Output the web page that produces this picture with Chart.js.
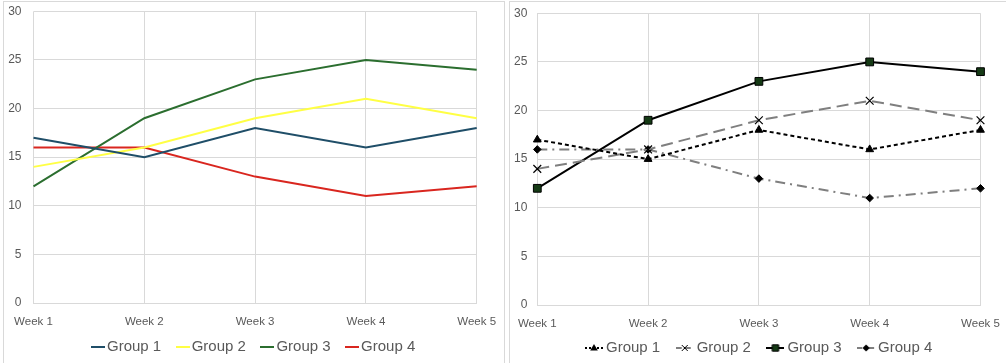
<!DOCTYPE html>
<html><head><meta charset="utf-8">
<script src="https://cdn.jsdelivr.net/npm/chart.js@4.4.1/dist/chart.umd.min.js"></script>
<style>
html,body{margin:0;padding:0;width:1006px;height:363px;overflow:hidden;background:#fff;}
.box{position:absolute;border:1px solid #d9d9d9;box-sizing:border-box;pointer-events:none;}
.cw{position:absolute;top:0;height:400px;}
</style></head><body>
<div class="cw" style="left:0;width:504px"><canvas id="c1"></canvas></div>
<div class="cw" style="left:505px;width:501px"><canvas id="c2"></canvas></div>
<div class="box" style="left:3px;top:1px;width:502px;height:400px"></div>
<div class="box" style="left:509px;top:1px;width:520px;height:400px"></div>
<script>
const categories = ['Week 1','Week 2','Week 3','Week 4','Week 5'];
const seriesNames = ['Group 1','Group 2','Group 3','Group 4'];
const group1 = [17,15,18,16,18];
const group2 = [14,16,19,21,19];
const group3 = [12,19,23,25,24];
const group4 = [16,16,13,11,12];
const yMin = 0, yMax = 30, yStep = 5;

const FONT = "'Liberation Sans', Arial, sans-serif";
const TXT = '#595959';
const GRID = '#d9d9d9';

const leftColors = ['#1f4e68','#ffff44','#2b6e2f','#d9261f'];
const rightStyles = [
  {color:'#000000', dash:[4,3], marker:'triangle', mfill:'#000000', r:4.5},
  {color:'#7f7f7f', dash:[12,6], marker:'crossRot', mfill:'#000000', r:5.5},
  {color:'#000000', dash:[], marker:'rect', mfill:'#153a15', r:5.5},
  {color:'#7f7f7f', dash:[10,5,2,5], marker:'rectRot', mfill:'#000000', r:3.8}
];
const allData = [group1, group2, group3, group4];

function drawMarker(ctx, type, x, y, r, fill){
  ctx.save();
  ctx.setLineDash([]);
  ctx.fillStyle = fill; ctx.strokeStyle = '#000'; ctx.lineWidth = 1;
  ctx.beginPath();
  if (type === 'triangle'){
    ctx.moveTo(x, y - r); ctx.lineTo(x + r*0.95, y + r*0.65); ctx.lineTo(x - r*0.95, y + r*0.65); ctx.closePath(); ctx.fill();
  } else if (type === 'crossRot'){
    const d = r*0.75; ctx.moveTo(x-d,y-d); ctx.lineTo(x+d,y+d); ctx.moveTo(x+d,y-d); ctx.lineTo(x-d,y+d); ctx.stroke();
  } else if (type === 'rect'){
    const d = r*0.8; ctx.rect(x-d,y-d,2*d,2*d); ctx.fill(); ctx.stroke();
  } else if (type === 'rectRot'){
    const d = r*0.9; ctx.moveTo(x,y-d); ctx.lineTo(x+d,y); ctx.lineTo(x,y+d); ctx.lineTo(x-d,y); ctx.closePath(); ctx.fill();
  }
  ctx.restore();
}
function leftIcon(color){
  const c = document.createElement('canvas'); c.width = 14; c.height = 4;
  const x = c.getContext('2d'); x.strokeStyle = color; x.lineWidth = 2;
  x.beginPath(); x.moveTo(0,2); x.lineTo(14,2); x.stroke(); return c;
}
function rightIcon(st){
  const c = document.createElement('canvas'); c.width = 18; c.height = 10;
  const x = c.getContext('2d'); x.strokeStyle = st.color; x.lineWidth = 2;
  x.setLineDash(st.dash.length ? st.dash.map(v=>Math.max(2,v*0.5)) : []);
  x.beginPath(); x.moveTo(0,5); x.lineTo(18,5); x.stroke();
  drawMarker(x, st.marker, 9, 5, 4, st.mfill); return c;
}

const legendShift = {
  id:'legendShift',
  afterLayout(chart, args, opts){
    const lg = chart.legend;
    if (!lg || !lg.lineWidths) return;
    const pad = lg.options.labels.padding;
    const x0 = (lg.left + pad + lg.right - lg.lineWidths[0]) / 2;
    const dx = opts.x - x0;
    const dy = opts.y - (lg.top + pad + 7.5);
    lg.left += dx; lg.right += dx; lg.top += dy; lg.bottom += dy;
  }
};

function makeChart(id, cfg){
  const datasets = allData.map((d,i)=>{
    if (cfg.right){
      const st = rightStyles[i];
      return {label: seriesNames[i], data: d, borderColor: st.color, borderWidth: 2, borderDash: st.dash,
        pointStyle: st.marker, pointRadius: st.r, pointBackgroundColor: st.mfill, pointBorderColor: '#000',
        pointBorderWidth: st.marker==='crossRot'?1.2:1, tension: 0, clip: false, fill: false};
    }
    return {label: seriesNames[i], data: d, borderColor: leftColors[i], borderWidth: 2, pointRadius: 0,
      tension: 0, clip: false, fill: false};
  });
  const icons = cfg.right ? rightStyles.map(rightIcon) : leftColors.map(leftIcon);
  const chart = new Chart(document.getElementById(id), {
    type: 'line',
    data: {labels: categories, datasets},
    options: {
      responsive: true, maintainAspectRatio: false, animation: false, devicePixelRatio: 1,
      layout: {padding: {left: 0, right: cfg.padR, top: cfg.padT, bottom: 0}},
      events: [],
      plugins: {
        tooltip: {enabled: false},
        legendShift: {x: cfg.legX, y: cfg.legY},
        legend: {
          position: 'bottom',
          labels: {
            usePointStyle: true, pointStyleWidth: cfg.right ? 9 : 3, padding: 20,
            color: TXT, font: {family: FONT, size: 15},
            generateLabels: (chart) => chart.data.datasets.map((ds,i)=>({
              text: ds.label, pointStyle: icons[i], datasetIndex: i, hidden: false,
              fillStyle: 'rgba(0,0,0,0)', strokeStyle: 'rgba(0,0,0,0)', lineWidth: 0, fontColor: TXT
            }))
          }
        }
      },
      scales: {
        x: {
          offset: false,
          grid: {color: GRID, drawTicks: false, lineWidth: 1},
          border: {color: GRID},
          ticks: {color: TXT, font: {family: FONT, size: 11.5}, padding: 12, maxRotation: 0, autoSkip: false},
          afterFit: (s)=>{ s.height = cfg.xh; s.paddingLeft = 0; s.paddingRight = 0; }
        },
        y: {
          min: yMin, max: yMax,
          grid: {color: GRID, drawTicks: false, lineWidth: 1},
          border: {display: false},
          ticks: {stepSize: yStep, color: TXT, font: {family: FONT, size: 12}, padding: cfg.yPad},
          afterFit: (s)=>{ s.width = cfg.yw; s.paddingTop = 0; s.paddingBottom = 0; }
        }
      }
    },
    plugins: [legendShift]
  });
  for (let k = 0; k < 4; k++){
    const a = chart.chartArea;
    const dT = cfg.area.top - a.top, dB = cfg.area.bottom - a.bottom;
    const dL = cfg.area.left - a.left, dR = cfg.area.right - a.right;
    if (Math.abs(dT)+Math.abs(dB)+Math.abs(dL)+Math.abs(dR) < 0.05) break;
    chart.options.layout.padding.top += dT;
    cfg.xh -= dB - dT;
    cfg.yw += dL;
    chart.options.layout.padding.right -= dR;
    chart.update();
  }
  return chart;
}

makeChart('c1', {right:false, padR:27.3, padT:11.3, yw:33.5, yPad:12, xh:52, legX:96.5, legY:347,
  area:{left:33.5, right:476.7, top:11.3, bottom:303}});
makeChart('c2', {right:true, padR:25.5, padT:13.3, yw:32.3, yPad:10, xh:50, legX:84.5, legY:348,
  area:{left:32.3, right:475.5, top:13.3, bottom:305}});
</script>
</body></html>
